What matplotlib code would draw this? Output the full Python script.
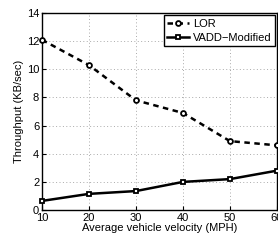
import numpy as np
import matplotlib
matplotlib.use('Agg')
import matplotlib.pyplot as plt

plt.rcParams['font.family'] = ['Liberation Sans', 'DejaVu Sans']

velocity = [10, 20, 30, 40, 50, 60]
lor = [12.1, 10.3, 7.8, 6.9, 4.9, 4.6]
vadd = [0.65, 1.15, 1.35, 2.0, 2.2, 2.8]

fig = plt.figure(figsize=(2.78, 2.42), dpi=100)
ax = fig.add_axes([0.151, 0.132, 0.845, 0.814])

ax.plot(velocity, lor, '--ok', lw=1.8, ms=3.5, mfc='white', mew=1.3, label='LOR',
        dashes=(2.2, 1.8), clip_on=False, zorder=3)
ax.plot(velocity, vadd, '-sk', lw=1.8, ms=3.5, mfc='white', mew=1.3,
        label='VADD\u2212Modified', clip_on=False, zorder=3)

ax.set_xlim(10, 60)
ax.set_ylim(0, 14)
ax.set_xticks(np.arange(10, 61, 10))
ax.set_yticks(np.arange(0, 15, 2))
ax.tick_params(direction='in', labelsize=8, length=3, width=0.8, pad=2)
ax.grid(True, ls=(0, (1, 2.5)), color='#aaaaaa', lw=0.7)
for s in ax.spines.values():
    s.set_linewidth(1)

ax.set_xlabel('Average vehicle velocity (MPH)', fontsize=8, labelpad=0)
ax.set_ylabel('Throughput (KB/sec)', fontsize=8, labelpad=2)

leg = ax.legend(loc='upper right', fontsize=8, fancybox=False, framealpha=1,
                edgecolor='black', borderpad=0.3, labelspacing=0.35,
                handlelength=2.0, handletextpad=0.3, borderaxespad=0.2)
leg.get_frame().set_linewidth(1)

fig.savefig('out.png', dpi=100)
